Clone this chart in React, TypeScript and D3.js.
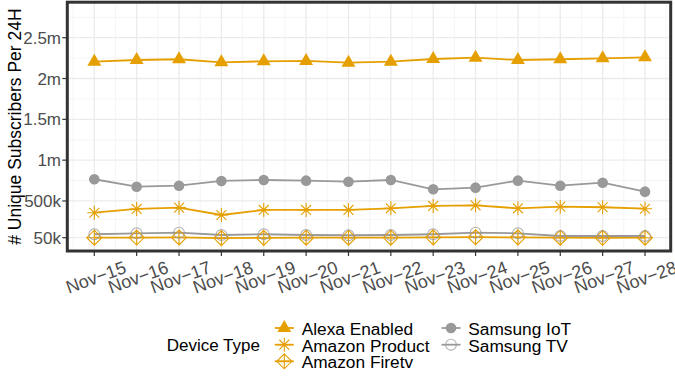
import React from 'react';
import * as d3 from 'd3';

const dates = ['Nov-15', 'Nov-16', 'Nov-17', 'Nov-18', 'Nov-19', 'Nov-20', 'Nov-21',
  'Nov-22', 'Nov-23', 'Nov-24', 'Nov-25', 'Nov-26', 'Nov-27', 'Nov-28'];

// values in millions of subscribers
const alexaEnabled = [2.206, 2.227, 2.236, 2.199, 2.211, 2.215, 2.194, 2.206, 2.239, 2.255, 2.227, 2.236, 2.248, 2.26];
const amazonProduct = [0.356, 0.402, 0.418, 0.328, 0.39, 0.39, 0.39, 0.41, 0.439, 0.447, 0.41, 0.43, 0.423, 0.405];
const amazonFiretv = [0.05, 0.052, 0.053, 0.045, 0.048, 0.05, 0.05, 0.051, 0.054, 0.056, 0.054, 0.05, 0.049, 0.05];
const samsungIoT = [0.766, 0.675, 0.687, 0.745, 0.757, 0.749, 0.736, 0.757, 0.643, 0.663, 0.749, 0.687, 0.724, 0.614];
const samsungTV = [0.092, 0.104, 0.111, 0.083, 0.092, 0.083, 0.08, 0.083, 0.092, 0.111, 0.104, 0.071, 0.071, 0.071];

const yTicks = [0.05, 0.5, 1, 1.5, 2, 2.5];
const yTickLabels = ['50k', '500k', '1m', '1.5m', '2m', '2.5m'];
const yMinor = [0.275, 0.75, 1.25, 1.75, 2.25, 2.75];

const ORANGE = '#E69F00';
const GREY = '#999999';

const series = [
  { name: 'Alexa Enabled', values: alexaEnabled, color: ORANGE, shape: 'triangle' },
  { name: 'Amazon Product', values: amazonProduct, color: ORANGE, shape: 'asterisk' },
  { name: 'Amazon Firetv', values: amazonFiretv, color: ORANGE, shape: 'diamondPlus' },
  { name: 'Samsung IoT', values: samsungIoT, color: GREY, shape: 'circle' },
  { name: 'Samsung TV', values: samsungTV, color: GREY, shape: 'openCircle' },
];

const FONT = '"Liberation Sans", Arial, Helvetica, sans-serif';

function Symbol({ shape, color, x, y }: { shape: string; color: string; x: number; y: number }) {
  const t = `translate(${x},${y})`;
  if (shape === 'triangle') {
    return <path transform={t} d={d3.symbol().type(d3.symbolTriangle).size(84)()!} fill={color} />;
  }
  if (shape === 'circle') {
    return <circle cx={x} cy={y} r={5.3} fill={color} />;
  }
  if (shape === 'openCircle') {
    return <circle cx={x} cy={y} r={5.4} fill="none" stroke={color} strokeOpacity={0.75} strokeWidth={1.1} />;
  }
  if (shape === 'asterisk') {
    const r = 7, d = r * Math.SQRT1_2;
    return (
      <path transform={t} fill="none" stroke={color} strokeWidth={1.1}
        d={`M${-r},0H${r}M0,${-r}V${r}M${-d},${-d}L${d},${d}M${-d},${d}L${d},${-d}`} />
    );
  }
  // diamond with plus
  const r = 7.5;
  return (
    <path transform={t} fill="none" stroke={color} strokeWidth={1.1}
      d={`M0,${-r}L${r},0L0,${r}L${-r},0ZM${-r},0H${r}M0,${-r}V${r}`} />
  );
}

export default function App() {
  const W = 675, H = 379;
  const panel = { left: 67.3, right: 670.7, top: 2.2, bottom: 251 };

  const x = d3.scalePoint<string>().domain(dates).range([94.3, 645]);
  const step = x.step();
  const y = d3.scaleLinear().domain([-0.113, 2.935]).range([panel.bottom, panel.top]);

  const xMinor = [...dates.map(d => x(d)! - step / 2), x(dates[dates.length - 1])! + step / 2];

  const line = d3.line<number>()
    .x((_, i) => x(dates[i])!)
    .y(v => y(v));

  const legendRows = [335, 351.7, 368.3];
  const legendItems = series.map((s, i) => ({
    ...s,
    col: i < 3 ? 0 : 1,
    row: i < 3 ? i : i - 3,
  }));
  const colKeyX = [284.3, 451];
  const colTextX = [301.7, 468.3];

  return (
    <svg width={W} height={H} style={{ position: 'absolute', left: 0, top: 0 }} fontFamily={FONT}>
      <rect x={0} y={0} width={W} height={H} fill="#fff" />
      <clipPath id="panel-clip">
        <rect x={panel.left} y={panel.top} width={panel.right - panel.left} height={panel.bottom - panel.top} />
      </clipPath>
      <g clipPath="url(#panel-clip)">
        {yMinor.map(v => (
          <line key={'ym' + v} x1={panel.left} x2={panel.right} y1={y(v)} y2={y(v)} stroke="#F2F2F2" strokeWidth={0.8} />
        ))}
        {xMinor.map((v, i) => (
          <line key={'xm' + i} x1={v} x2={v} y1={panel.top} y2={panel.bottom} stroke="#F2F2F2" strokeWidth={0.8} />
        ))}
        {yTicks.map(v => (
          <line key={'yM' + v} x1={panel.left} x2={panel.right} y1={y(v)} y2={y(v)} stroke="#EBEBEB" strokeWidth={1.3} />
        ))}
        {dates.map(d => (
          <line key={'xM' + d} x1={x(d)} x2={x(d)} y1={panel.top} y2={panel.bottom} stroke="#EBEBEB" strokeWidth={1.3} />
        ))}
        {series.map(s => (
          <path key={'l' + s.name} d={line(s.values)!} fill="none" stroke={s.color} strokeWidth={1.8} />
        ))}
        {series.map(s => s.values.map((v, i) => (
          <Symbol key={s.name + i} shape={s.shape} color={s.color} x={x(dates[i])!} y={y(v)} />
        )))}
      </g>
      <rect x={panel.left} y={panel.top} width={panel.right - panel.left} height={panel.bottom - panel.top}
        fill="none" stroke="#333333" strokeWidth={3} />

      {/* y axis */}
      {yTicks.map((v, i) => (
        <g key={'yt' + v}>
          <line x1={panel.left - 5} x2={panel.left} y1={y(v)} y2={y(v)} stroke="#333333" strokeWidth={1.2} />
          <text x={61} y={y(v)} dy="0.36em" textAnchor="end" fontSize={17} fill="#4D4D4D">{yTickLabels[i]}</text>
        </g>
      ))}
      <text transform={`translate(20.5,${(panel.top + panel.bottom) / 2}) rotate(-90)`} textAnchor="middle"
        fontSize={17.5} fill="#000">
        # Unique Subscribers Per 24H
      </text>

      {/* x axis */}
      {dates.map(d => (
        <g key={'xt' + d}>
          <line x1={x(d)} x2={x(d)} y1={panel.bottom} y2={panel.bottom + 5} stroke="#333333" strokeWidth={1.2} />
          <text transform={`translate(${x(d)! + 1.5},277) rotate(-20)`} textAnchor="middle" dy="0.36em"
            fontSize={18} fill="#4D4D4D">
            {d.replace('-', '\u2212')}
          </text>
        </g>
      ))}

      {/* legend */}
      <text x={166.7} y={350.5} fontSize={17} fill="#000">Device Type</text>
      {legendItems.map(s => {
        const cy = legendRows[s.row] - 7;
        const kx = colKeyX[s.col];
        return (
          <g key={'lg' + s.name}>
            <line x1={kx - 9.5} x2={kx + 9.5} y1={cy} y2={cy} stroke={s.color} strokeWidth={1.8} />
            <Symbol shape={s.shape} color={s.color} x={kx} y={cy} />
            <text x={colTextX[s.col]} y={legendRows[s.row]} fontSize={17.3} fill="#000">{s.name}</text>
          </g>
        );
      })}
    </svg>
  );
}
